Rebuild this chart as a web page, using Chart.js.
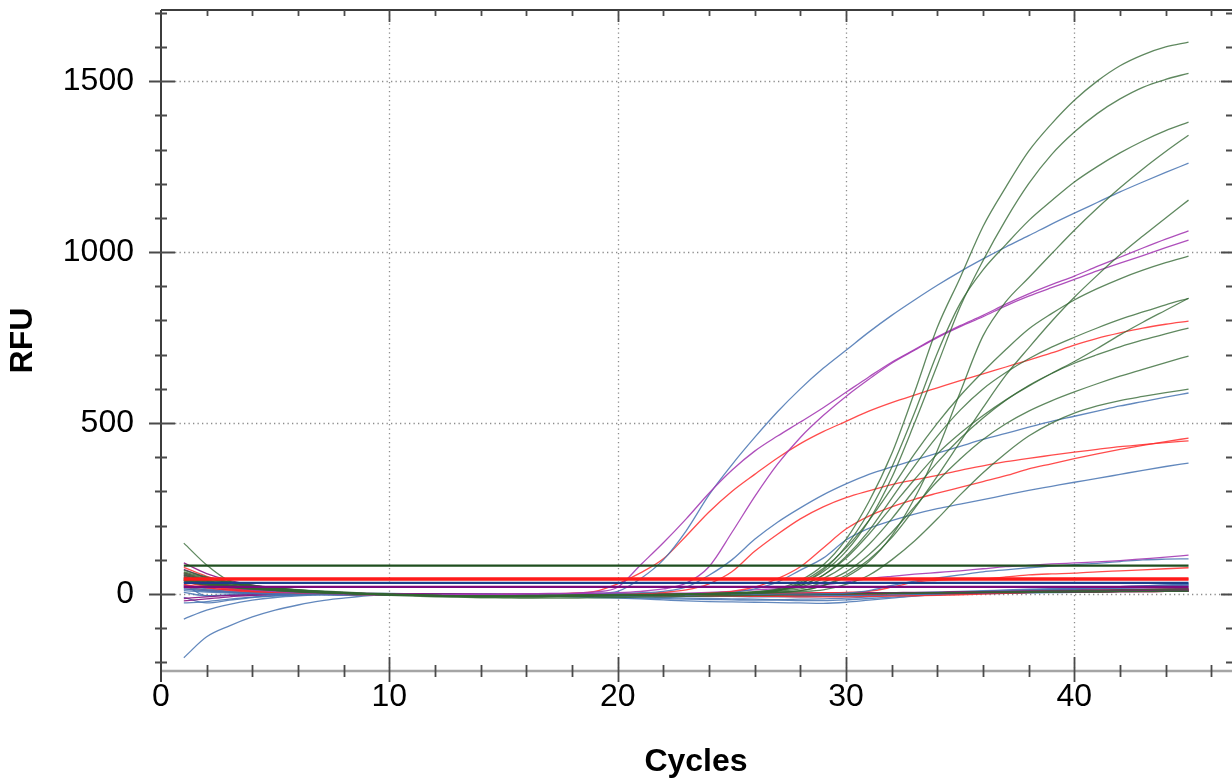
<!DOCTYPE html>
<html><head><meta charset="utf-8">
<script src="https://cdn.jsdelivr.net/npm/chart.js@4.4.0/dist/chart.umd.min.js"></script>
<style>html,body{margin:0;padding:0;background:#fff}#wrap{width:1232px;height:780px;position:relative}</style>
</head><body><div id="wrap"><canvas id="c" width="1232" height="780"></canvas></div>
<script>
// ---------- data ----------
const cycles = [1,2,3,4,5,6,7,8,9,10,11,12,13,14,15,16,17,18,19,20,21,22,23,24,25,26,27,28,29,30,31,32,33,34,35,36,37,38,39,40,41,42,43,44,45];
const xTickLabels = [0,10,20,30,40];
const yTickLabels = [0,500,1000,1500];

// amplifying wells
const purpleA = [60,40,25,15,10, 6,3,1,0,-1, -2,-2,-1,0,0, 1,2,3,6,20, 85,150,220,295,362, 418,462,503,545,590, 635,678,715,752,785, 815,848,878,905,930, 958,985,1012,1038,1062];
const purpleB = [50,32,20,12,7, 4,2,0,-1,-2, -2,-3,-2,-2,-1, 0,0,1,2,4, 8,15,32,80,180, 285,380,458,522,578, 628,675,713,750,782, 811,843,871,896,920, 945,968,990,1013,1035];
const blueA = [20,12,6,3,1, 0,-1,-2,-2,-3, -3,-2,-2,-1,-1, 0,0,1,2,8, 45,100,185,290,378, 458,533,600,660,713, 766,815,860,903,943, 980,1015,1048,1082,1114, 1145,1176,1205,1233,1260];
const redA = [45,30,18,10,5, 2,0,-1,-2,-2, -3,-3,-2,-2,-1, 0,1,3,8,30, 62,103,170,240,300, 350,398,440,475,505, 535,560,582,603,624, 644,664,684,705,728, 748,764,778,789,798];
const blueB = [10,6,3,1,0, -1,-1,-2,-2,-2, -3,-3,-3,-2,-2, -1,-1,0,1,2, 4,8,20,55,100, 160,210,252,290,322, 350,372,392,412,432, 452,470,488,505,520, 535,550,563,576,588];
const redB = [35,23,14,8,4, 2,0,-1,-2,-3, -3,-4,-4,-3,-3, -2,-2,-1,-1,0, 1,5,12,30,65, 125,175,220,255,282, 302,320,334,347,362, 375,387,397,406,415, 423,431,437,443,448];
const redC = [28,18,11,6,3, 1,0,-1,-1,-2, -2,-2,-3,-3,-3, -3,-2,-2,-2,-1, -1,0,1,3,8, 20,45,80,135,190, 228,255,277,295,312, 329,346,366,381,396, 410,423,435,446,456];
const blueC = [15,9,5,2,0, -1,-2,-2,-3,-3, -4,-4,-4,-4,-3, -3,-3,-2,-2,-2, -1,-1,0,1,5, 15,35,70,105,158, 192,215,234,250,263, 276,290,303,315,327, 338,350,362,373,383];
const green1 = [65,48,35,25,18, 12,8,4,1,-1, -3,-4,-5,-5,-5, -4,-4,-3,-2,-2, -1,-1,0,1,2, 5,15,40,85,160, 270,410,590,780,925, 1075,1190,1295,1375,1444, 1500,1545,1577,1600,1614];
const green2 = [55,40,30,22,16, 11,7,4,1,-1, -3,-5,-6,-6,-6, -5,-5,-4,-3,-3, -2,-1,0,0,1, 3,10,30,65,125, 215,340,500,670,840, 975,1095,1200,1285,1351, 1405,1448,1482,1505,1523];
const green3 = [48,35,26,19,14, 9,6,3,0,-2, -4,-5,-6,-7,-7, -6,-6,-5,-4,-3, -3,-2,-1,0,2, 4,10,30,70,140, 240,370,530,705,850, 948,1022,1092,1150,1205, 1250,1290,1325,1355,1380];
const green4 = [40,30,22,16,11, 7,4,2,0,-2, -3,-4,-5,-5,-5, -5,-4,-4,-3,-3, -2,-2,-1,0,1, 2,5,10,25,50, 95,170,280,420,590, 755,855,925,995,1064, 1128,1188,1243,1294,1342];
const green5 = [58,42,31,23,16, 11,7,4,1,-1, -3,-4,-5,-6,-6, -6,-5,-5,-4,-3, -3,-2,-1,0,1, 3,6,10,25,55, 100,165,250,345,445, 545,640,720,797,868, 932,992,1047,1100,1152];
const green6 = [35,26,19,14,10, 6,3,1,-1,-2, -4,-5,-6,-6,-6, -6,-5,-5,-4,-3, -3,-2,-1,1,3, 5,10,35,75,135, 215,310,410,500,580, 650,715,775,820,860, 893,922,947,969,988];
const green7 = [50,37,27,20,14, 9,6,3,0,-2, -3,-5,-6,-7,-7, -7,-6,-6,-5,-4, -3,-2,-1,1,3, 6,12,25,55,105, 175,255,335,410,470, 522,568,608,645,680, 718,758,795,830,865];
const green8 = [44,33,24,18,13, 8,5,2,0,-2, -4,-5,-6,-6,-6, -6,-5,-4,-4,-3, -2,-1,0,2,4, 7,13,25,55,110, 185,280,375,462,538, 600,648,688,722,751, 778,803,825,846,865];
const green9 = [38,28,21,15,11, 7,4,2,0,-1, -3,-4,-5,-5,-5, -5,-4,-4,-3,-3, -2,-1,0,1,3, 5,10,20,45,85, 145,220,305,385,455, 515,567,610,645,675, 700,723,743,761,778];
const green10 = [62,45,33,24,17, 12,8,4,1,-1, -3,-5,-6,-7,-7, -7,-6,-5,-4,-4, -3,-2,-1,0,2, 4,8,15,35,65, 115,180,255,330,395, 452,498,535,565,591, 615,637,657,677,696];
const green11 = [42,31,23,17,12, 8,5,2,0,-2, -3,-4,-5,-5,-5, -5,-5,-4,-4,-3, -3,-2,-1,0,1, 2,4,7,12,28, 55,100,155,220,290, 355,412,462,500,529, 550,566,578,589,599];
const purpleLow = [40,26,17,11,7, 4,2,1,0,-1, -1,-2,-2,-2,-2, -2,-2,-1,-1,0, 1,2,3,5,8, 12,16,21,27,35, 45,52,58,63,68, 74,80,84,88,91, 94,98,103,108,114];
const blueLow = [25,15,8,4,1, 0,-1,-2,-2,-3, -3,-3,-4,-4,-4, -4,-4,-3,-3,-3, -2,-2,-2,-1,-1, -1,0,0,1,3, 10,25,38,47,56, 65,71,77,82,86, 90,95,100,102,103];
const redLow = [52,34,22,14,8, 4,2,0,-1,-2, -2,-3,-3,-3,-3, -3,-3,-2,-2,-2, -1,-1,0,0,1, 1,2,3,4,5, 8,20,35,40,43, 45,50,56,59,61, 65,68,71,74,77];

// non-amplifying wells
const blueBase1 = [-186,-125,-93,-67,-47, -32,-20,-12,-5,-2, 0,1,1,0,-1, -2,-3,-4,-5,-6, -8,-10,-12,-13,-14, -15,-16,-15,-14,-12, -8,-4,0,3,6, 8,10,12,14,16, 18,20,22,24,26];
const blueBase2 = [-73,-47,-30,-18,-10, -5,-2,0,1,1, 0,-1,-2,-3,-4, -5,-6,-8,-10,-12, -14,-17,-20,-22,-23, -24,-25,-26,-27,-24, -18,-12,-6,-2,2, 5,8,10,12,14, 16,18,20,22,24];
const blueBase3 = [30,-5,-2,0,1, 2,2,1,0,-1, -2,-3,-3,-4,-5, -5,-6,-7,-8,-10, -12,-13,-15,-16,-17, -18,-18,-19,-19,-17, -13,-9,-5,-2,1, 4,7,10,13,16, 19,22,24,27,29];
const blueBase4 = [-26,-22,-15,-9,-5, -2,0,1,2,2, 1,0,-1,-2,-2, -3,-3,-4,-4,-5, -5,-6,-6,-7,-7, -8,-8,-8,-7,-6, -5,-3,-1,1,3, 5,7,9,11,13, 15,17,18,19,20];
const blueBase5 = [15,10,6,3,1, 0,-1,-1,-2,-2, -2,-3,-3,-3,-4, -4,-4,-4,-5,-5, -5,-5,-6,-6,-6, -6,-6,-5,-5,-4, -3,-2,-1,0,1, 2,4,5,7,8, 9,10,11,12,13];
const blueBase6 = [-10,-26,-18,-10,-5, -2,0,1,1,1, 0,0,-1,-1,-2, -2,-3,-3,-4,-4, -5,-5,-6,-6,-7, -7,-7,-7,-6,-5, -4,-3,-2,-1,0, 1,2,3,4,5, 6,7,8,9,10];
const blueBase7 = [5,-5,-4,-3,-2, -1,0,0,1,1, 1,0,0,-1,-1, -1,-2,-2,-2,-3, -3,-4,-4,-5,-5, -6,-6,-5,-4,-2, 0,2,4,6,8, 10,12,14,16,18, 20,22,24,26,28];
const redBase1 = [78,52,34,22,14, 8,4,1,-1,-2, -3,-3,-4,-4,-4, -4,-4,-3,-3,-3, -3,-3,-3,-2,-2, -2,-2,-1,-1,0, 1,2,3,4,5, 6,7,8,9,10, 11,12,13,14,15];
const redBase2 = [62,40,26,16,10, 6,3,1,0,-1, -2,-2,-2,-3,-3, -3,-3,-3,-3,-4, -4,-5,-5,-6,-6, -7,-7,-8,-8,-8, -7,-6,-5,-4,-2, 0,2,4,6,7, 8,9,10,11,12];
const redBase3 = [40,25,15,9,5, 2,0,-2,-3,-4, -4,-5,-5,-5,-5, -5,-4,-4,-4,-3, -3,-3,-2,-2,-2, -1,-1,0,0,1, 1,2,2,3,3, 4,4,5,5,6, 6,7,7,8,8];
const redBase4 = [20,12,7,4,2, 1,0,0,-1,-1, -1,-2,-2,-2,-2, -2,-2,-2,-2,-2, -2,-2,-2,-2,-2, -2,-2,-2,-1,-1, 0,1,2,3,4, 5,6,7,8,9, 10,11,12,13,14];
const purpleBase1 = [91,60,40,26,17, 10,6,3,1,0, -1,-1,-2,-2,-2, -2,-2,-2,-1,-1, -1,0,0,0,1, 1,1,2,2,2, 3,3,4,4,5, 5,6,6,7,7, 8,8,9,9,10];
const purpleBase2 = [55,38,25,16,10, 6,3,1,0,-1, -2,-2,-3,-3,-3, -3,-3,-2,-2,-2, -1,-1,-1,0,0, 0,0,1,1,1, 2,2,2,3,3, 4,4,5,5,6, 7,8,9,10,11];
const purpleBase3 = [-13,-8,-4,-2,0, 1,1,1,1,0, 0,0,0,-1,-1, -1,-1,-1,-1,-1, 0,0,0,0,0, 1,1,1,1,2, 2,3,3,4,4, 5,5,6,6,7, 7,8,8,9,9];
const purpleBase4 = [25,18,12,8,5, 3,2,1,0,0, -1,-1,-1,-1,-1, -1,-1,-1,0,0, 0,0,0,1,1, 1,2,2,3,3, 4,4,5,5,6, 7,8,9,10,11, 12,13,14,15,16];
const purpleBase5 = [72,48,32,21,13, 8,4,2,0,-1, -2,-3,-3,-3,-3, -3,-3,-3,-3,-2, -2,-2,-2,-1,-1, -1,0,0,0,1, 1,2,2,3,3, 4,5,6,7,8, 9,10,11,12,13];
const purpleBase6 = [-20,-14,-8,-4,-1, 1,2,2,2,1, 1,0,0,0,-1, -1,-1,-1,0,0, 0,1,1,1,2, 2,2,3,3,3, 3,4,4,4,5, 5,5,6,6,6, 7,7,7,8,8];
const greenBase1 = [149,85,38,20,12, 6,3,0,-2,-4, -6,-8,-9,-10,-10, -10,-9,-8,-7,-6, -5,-4,-3,-2,-1, 0,0,1,1,2, 2,3,3,4,4, 5,5,6,6,7, 7,8,8,9,9];
const greenBase2 = [45,33,24,17,12, 8,5,2,0,-2, -4,-6,-8,-10,-11, -12,-12,-12,-11,-10, -9,-8,-7,-6,-5, -4,-3,-2,-1,0, 1,2,3,4,5, 6,7,8,9,10, 11,12,13,14,15];
const greenBase3 = [70,50,36,26,19, 13,9,6,3,1, -1,-3,-4,-5,-6, -6,-6,-5,-5,-4, -4,-3,-3,-2,-2, -1,-1,0,0,1, 1,2,2,3,3, 4,4,5,5,6, 6,7,7,8,8];

// threshold lines (start and end cycle, level)
const thresholdCycles = [1,45];
const thresholdGreen = 83;
const thresholdRed1 = 46;
const thresholdRed2 = 42;
const thresholdBlue = 33;
const thresholdPurple = 21;

// ---------- styles ----------
const COL = {
  green: 'rgba(50,103,50,0.78)',
  blue: 'rgba(70,115,178,0.85)',
  red: 'rgba(255,45,45,0.85)',
  purple: 'rgba(165,60,180,0.9)',
  magenta: 'rgba(140,20,130,0.9)'
};
const FONT = "'Liberation Sans', Arial, sans-serif";

const thresholds = [
  {v: thresholdGreen, c: '#1f4f1f'},
  {v: thresholdRed1, c: '#ff1a1a'},
  {v: thresholdRed2, c: '#ff1a1a'},
  {v: thresholdBlue, c: '#1a3f8c'},
  {v: thresholdPurple, c: '#7d0a7d'}
];
const curves = [
  [green1,'green'],[green2,'green'],[green3,'green'],[green4,'green'],[green5,'green'],[green6,'green'],
  [green7,'green'],[green8,'green'],[green9,'green'],[green10,'green'],[green11,'green'],
  [purpleA,'purple'],[purpleB,'purple'],[blueA,'blue'],[redA,'red'],[blueB,'blue'],[redB,'red'],[redC,'red'],[blueC,'blue'],
  [purpleLow,'purple'],[blueLow,'blue'],[redLow,'red'],
  [greenBase1,'green'],[greenBase2,'green'],[greenBase3,'green'],
  [purpleBase1,'magenta'],[purpleBase2,'magenta'],[purpleBase3,'magenta'],[purpleBase4,'magenta'],[purpleBase5,'magenta'],[purpleBase6,'magenta'],
  [redBase1,'red'],[redBase2,'red'],[redBase3,'red'],[redBase4,'red'],
  [blueBase1,'blue'],[blueBase2,'blue'],[blueBase3,'blue'],[blueBase4,'blue'],[blueBase5,'blue'],[blueBase6,'blue'],[blueBase7,'blue']
];

const datasets = [];
thresholds.forEach(t => datasets.push({
  data: thresholdCycles.map(c => ({x: c, y: t.v})),
  borderColor: t.c, borderWidth: 2.2, pointRadius: 0, tension: 0
}));
curves.forEach(([vals, col]) => datasets.push({
  data: vals.map((v, i) => ({x: cycles[i], y: v})),
  borderColor: COL[col], borderWidth: 1.3, pointRadius: 0, cubicInterpolationMode: 'monotone'
}));

// ---------- axis decoration drawn from the chart's scales ----------
const axisDeco = {
  id: 'axisDeco',
  beforeDatasetsDraw(chart) {
    const {ctx, chartArea: a, scales: {x, y}} = chart;
    ctx.save();
    ctx.strokeStyle = '#8c8c8c'; ctx.lineWidth = 1.3; ctx.setLineDash([1.3, 3.2]);
    ctx.beginPath();
    xTickLabels.forEach(v => { if (v === 0) return; const px = Math.round(x.getPixelForValue(v)) + 0.5; ctx.moveTo(px, a.top); ctx.lineTo(px, a.bottom); });
    yTickLabels.forEach(v => { const py = Math.round(y.getPixelForValue(v)) + 0.5; ctx.moveTo(a.left + 14, py); ctx.lineTo(a.right, py); });
    ctx.stroke();
    ctx.restore();
  },
  afterDatasetsDraw(chart) {
    const {ctx, chartArea: a, scales: {x, y}, width: W} = chart;
    ctx.save();
    const seg = (x1, y1, x2, y2) => { ctx.moveTo(x1, y1); ctx.lineTo(x2, y2); };
    ctx.strokeStyle = '#a5a5a5'; ctx.lineWidth = 2.6;
    ctx.beginPath(); seg(a.left, a.bottom, W, a.bottom); ctx.stroke();
    ctx.strokeStyle = '#3c3c3c'; ctx.lineWidth = 2;
    ctx.beginPath(); seg(a.left, a.top, W, a.top); ctx.stroke();
    ctx.beginPath(); seg(a.left, a.top, a.left, a.bottom + 11); ctx.stroke();
    ctx.lineWidth = 1.8; ctx.strokeStyle = '#4a4a4a';
    ctx.beginPath();
    for (let c = 2; c <= 46; c += 2) {
      const px = Math.round(x.getPixelForValue(c)) + 0.5;
      if (c % 10 === 0) { seg(px, a.bottom - 14, px, a.bottom + 11); seg(px, a.top, px, a.top + 12); }
      else { seg(px, a.bottom - 6, px, a.bottom + 6); seg(px, a.top, px, a.top + 6); }
    }
    ctx.stroke();
    ctx.beginPath();
    for (let v = -200; v <= 1700; v += 100) {
      const py = Math.round(y.getPixelForValue(v)) + 0.5;
      if (v % 500 === 0) { seg(a.left - 12, py, a.left + 14, py); seg(W - 11, py, W, py); }
      else { seg(a.left - 6, py, a.left + 6, py); seg(W - 6, py, W, py); }
    }
    ctx.stroke();
    ctx.restore();
  }
};

new Chart(document.getElementById('c').getContext('2d'), {
  type: 'line',
  data: {datasets},
  options: {
    responsive: false, animation: false, devicePixelRatio: 1,
    layout: {padding: {top: 10, right: 1, left: 0, bottom: 0}},
    plugins: {legend: {display: false}, tooltip: {enabled: false}},
    scales: {
      x: {
        type: 'linear', min: 0, max: 46.86,
        grid: {display: false, drawTicks: false}, border: {display: false},
        afterBuildTicks: s => { s.ticks = xTickLabels.map(v => ({value: v})); },
        ticks: {padding: 7, color: '#000', font: {family: FONT, size: 32}, maxRotation: 0, autoSkip: false, callback: v => String(v)},
        title: {display: true, text: 'Cycles', color: '#000', font: {family: FONT, size: 32, weight: 'bold'}, padding: {top: 0, bottom: -1}},
        afterFit: s => { s.height = 109; s.paddingLeft = 0; s.paddingRight = 0; }
      },
      y: {
        type: 'linear', min: -225, max: 1708,
        grid: {display: false, drawTicks: false}, border: {display: false},
        afterBuildTicks: s => { s.ticks = yTickLabels.map(v => ({value: v})); },
        ticks: {padding: 27, color: '#000', font: {family: FONT, size: 32}, autoSkip: false, callback: v => String(v)},
        title: {display: true, text: 'RFU', color: '#000', font: {family: FONT, size: 32, weight: 'bold'}, padding: {top: 4, bottom: 0}},
        afterFit: s => { s.width = 161; s.paddingTop = 0; s.paddingBottom = 0; }
      }
    }
  },
  plugins: [axisDeco]
});
</script>
</body></html>
